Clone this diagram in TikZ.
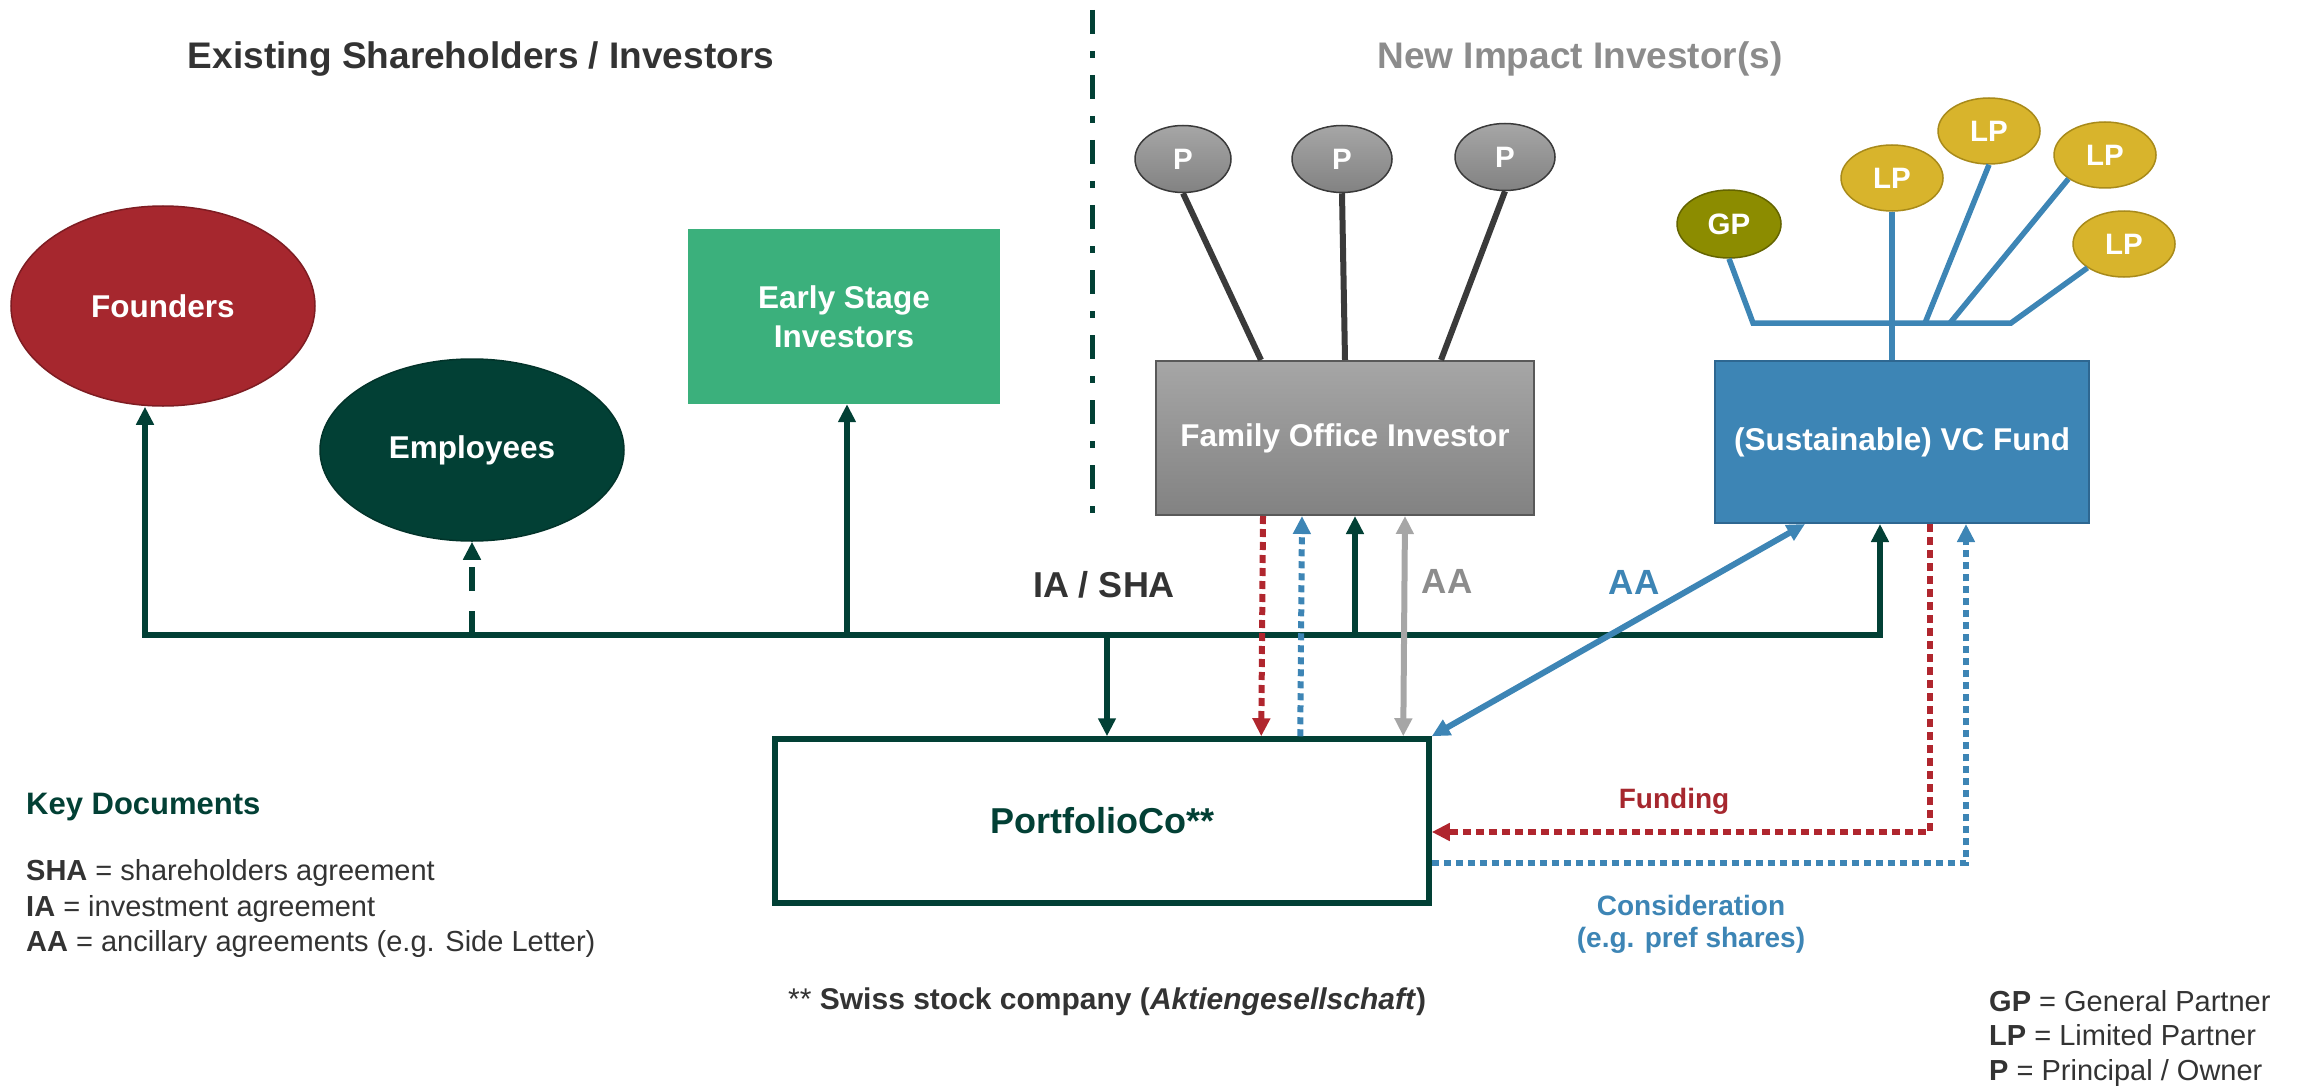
\documentclass[tikz,border=0pt]{standalone}
\usepackage{fontspec}
\setmainfont{Liberation Sans}
\usetikzlibrary{shapes.geometric,arrows.meta,calc}
\definecolor{dgreen}{HTML}{024035}
\definecolor{fred}{HTML}{A6272E}
\definecolor{fredb}{HTML}{7E1C22}
\definecolor{esig}{HTML}{3BB07C}
\definecolor{vcb}{HTML}{3D85B5}
\definecolor{vcbb}{HTML}{2E6791}
\definecolor{gold}{HTML}{D8B42C}
\definecolor{goldb}{HTML}{A88A1A}
\definecolor{olive}{HTML}{8C8C00}
\definecolor{oliveb}{HTML}{646400}
\definecolor{rline}{HTML}{B0262E}
\definecolor{foTop}{HTML}{A6A6A6}
\definecolor{foBot}{HTML}{828282}
\definecolor{foB}{HTML}{595959}
\definecolor{pB}{HTML}{3A3A3A}
\definecolor{txtd}{HTML}{333333}
\definecolor{txtg}{HTML}{8C8C8C}
\definecolor{gline}{HTML}{A6A6A6}
\begin{document}
\begin{tikzpicture}[x=1pt,y=-1pt,
  ell/.style={ellipse, inner sep=0pt, line width=1.5pt},
  box/.style={rectangle, inner sep=0pt},
  wtxt/.style={text=white, font=\bfseries\fontsize{31.5}{39}\selectfont, align=center},
  ptxt/.style={text=white, font=\bfseries\fontsize{29.5}{35}\selectfont},
  ga/.style={draw=dgreen, line width=6pt},
  ah/.style={-{Triangle[length=18pt,width=17pt]}},
  ahb/.style={{Triangle[length=18pt,width=17pt]}-{Triangle[length=18pt,width=17pt]}},
  rdot/.style={draw=rline, line width=6pt, dash pattern=on 8pt off 5pt},
  bdot/.style={draw=vcb, line width=6pt, dash pattern=on 7pt off 5pt},
  pline/.style={draw=pB, line width=6pt},
  btree/.style={draw=vcb, line width=5.5pt},
  leg/.style={anchor=base west, inner sep=0pt, text=txtd, font=\fontsize{29}{35}\selectfont},
]
\useasboundingbox (0,0) rectangle (2302,1086);

% titles
\node[anchor=base, inner sep=0pt, text=txtd, font=\bfseries\fontsize{37}{44}\selectfont] (t1) at (481,69) {Existing Shareholders / Investors};
\node[anchor=base, inner sep=0pt, text=txtg, font=\bfseries\fontsize{37}{44}\selectfont] (t2) at (1580,69) {New Impact Investor(s)};

% separator
\coordinate (sepT) at (1092,10);
\coordinate (sepB) at (1092,524);
\draw[dgreen, line width=5pt, dash pattern=on 24pt off 17pt on 7pt off 17pt] (sepT) -- (sepB);

% existing shareholders
\node[ell, fill=fred, draw=fredb, minimum width=304pt, minimum height=200pt, wtxt] (founders) at (163,306) {Founders};
\node[ell, fill=dgreen, draw=dgreen!80!black, minimum width=304pt, minimum height=182pt, wtxt] (emp) at (472,450) {Employees};
\node[box, fill=esig, minimum width=312pt, minimum height=175pt, wtxt] (esi) at (844,316.5) {Early Stage\\Investors};

% family office
\node[ell, top color=foTop, bottom color=foBot, draw=pB, minimum width=96pt, minimum height=67pt, ptxt] (p1) at (1183,159) {P};
\node[ell, top color=foTop, bottom color=foBot, draw=pB, minimum width=100pt, minimum height=67pt, ptxt] (p2) at (1342,159) {P};
\node[ell, top color=foTop, bottom color=foBot, draw=pB, minimum width=100pt, minimum height=67pt, ptxt] (p3) at (1505,157) {P};
\node[box, top color=foTop, bottom color=foBot, draw=foB, line width=2pt, minimum width=378pt, minimum height=154pt, wtxt] (fo) at (1345,438) {Family Office Investor};
\draw[pline] (p1.south) -- ($(fo.north west)+(106,0)$);
\draw[pline] (p2.south) -- (fo.north);
\draw[pline] (p3.south) -- ($(fo.north west)+(286,0)$);

% VC fund
\node[box, fill=vcb, draw=vcbb, line width=2pt, minimum width=374pt, minimum height=162pt, wtxt] (vc) at (1902,442) {(Sustainable) VC Fund};
\node[ell, fill=olive, draw=oliveb, minimum width=104pt, minimum height=68pt, ptxt] (gp) at (1729,224) {GP};
\node[ell, fill=gold, draw=goldb, minimum width=102pt, minimum height=66pt, ptxt] (lp1) at (1892,178) {LP};
\node[ell, fill=gold, draw=goldb, minimum width=102pt, minimum height=66pt, ptxt] (lp2) at (1989,131) {LP};
\node[ell, fill=gold, draw=goldb, minimum width=102pt, minimum height=66pt, ptxt] (lp3) at (2105,155) {LP};
\node[ell, fill=gold, draw=goldb, minimum width=102pt, minimum height=66pt, ptxt] (lp4) at (2124,244) {LP};
\coordinate (tl) at (1753,323);
\coordinate (tr) at (2011,323);
\coordinate (tb2) at (1925,323);
\coordinate (tb3) at (1950,323);
\draw[btree] (gp.south) -- (tl) -- (tr) -- (lp4.south west);
\draw[btree] (lp1.south) -- (lp1.south |- vc.north);
\draw[btree] (lp2.south) -- (tb2);
\draw[btree] (lp3.south west) -- (tb3);

% PortfolioCo
\node[box, draw=dgreen, line width=5.5pt, minimum width=654pt, minimum height=164pt, text=dgreen, font=\bfseries\fontsize{36}{42}\selectfont] (pco) at (1102,821) {PortfolioCo**};

% IA / SHA network
\coordinate (barL) at (145,635);
\coordinate (barR) at (1880,635);
\draw[ga, ahb] ($(founders.south)+(-18,0)$) -- (barL) -- (barR) -- (barR |- vc.south);
\draw[ga, ah, dash pattern=on 24pt off 20pt] (emp.south |- barL) -- (emp.south);
\draw[ga, ah] ($(esi.south |- barL)+(3,0)$) -- ($(esi.south)+(3,0)$);
\draw[ga, ah] ($(fo.south |- barL)+(10,0)$) -- ($(fo.south)+(10,0)$);
\draw[ga, ah] ($(pco.north |- barL)+(5,0)$) -- ($(pco.north)+(5,0)$);

% FO <-> PortfolioCo
\draw[rdot, ah] ($(fo.south west)+(108,0)$) -- ($(pco.north west)+(489,0)$);
\draw[bdot, ah] ($(pco.north west)+(528,0)$) -- ($(fo.south west)+(147,0)$);
\draw[draw=gline, line width=6pt, ahb] ($(fo.south west)+(250,0)$) -- ($(pco.north west)+(631,0)$);

% VC <-> PortfolioCo
\draw[draw=vcb, line width=6pt, ahb] ($(vc.south west)+(91,0)$) -- (pco.north east);
\draw[rdot, ah] ($(vc.south west)+(216,0)$) |- ($(pco.east)+(0,11)$);
\draw[bdot, ah] ($(pco.east)+(0,42)$) -| ($(vc.south west)+(252,0)$);

% labels
\node[anchor=base, inner sep=0pt, text=txtd, font=\bfseries\fontsize{36}{42}\selectfont] (lia) at (1104,597) {IA / SHA};
\node[anchor=base, inner sep=0pt, text=txtg, font=\bfseries\fontsize{35}{42}\selectfont] (laa1) at (1447,593) {AA};
\node[anchor=base, inner sep=0pt, text=vcb, font=\bfseries\fontsize{35}{42}\selectfont] (laa2) at (1634,594) {AA};
\node[anchor=base, inner sep=0pt, text=fred, font=\bfseries\fontsize{28}{34}\selectfont] (lfund) at (1674,808) {Funding};
\node[anchor=base, inner sep=0pt, text=vcb, font=\bfseries\fontsize{28}{34}\selectfont] (lcons1) at (1691,915) {Consideration};
\node[anchor=base, inner sep=0pt, text=vcb, font=\bfseries\fontsize{28}{34}\selectfont] (lcons2) at (1691,947) {(e.g. pref shares)};

% key documents legend
\node[anchor=base west, inner sep=0pt, text=dgreen, font=\bfseries\fontsize{31}{38}\selectfont] (kd) at (26,814) {Key Documents};
\node[leg] (k1) at (26,880) {\textbf{SHA} = shareholders agreement};
\node[leg] (k2) at (26,916) {\textbf{IA} = investment agreement};
\node[leg] (k3) at (26,951) {\textbf{AA} = ancillary agreements (e.g. Side Letter)};

% footnote
\node[anchor=base west, inner sep=0pt, text=txtd, font=\fontsize{30}{36}\selectfont] (fn) at (788,1009) {** \textbf{Swiss stock company (\textit{Aktiengesellschaft})}};

% partner legend
\node[leg] (g1) at (1989,1011) {\textbf{GP} = General Partner};
\node[leg] (g2) at (1989,1045) {\textbf{LP} = Limited Partner};
\node[leg] (g3) at (1989,1080) {\textbf{P} = Principal / Owner};
\end{tikzpicture}
\end{document}
